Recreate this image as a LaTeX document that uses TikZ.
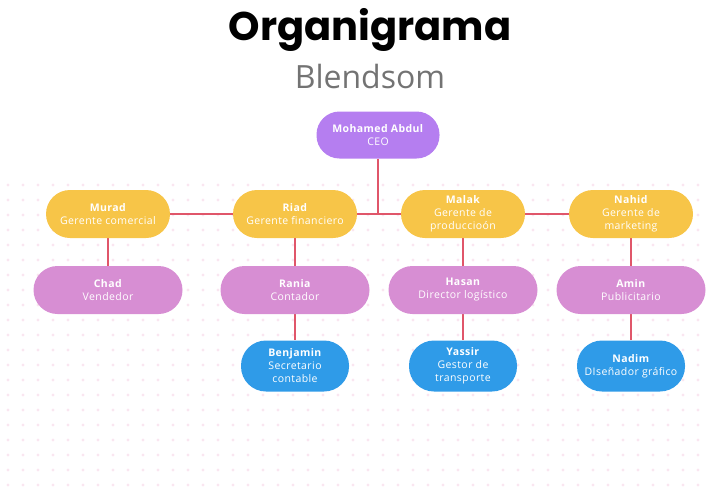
\documentclass[tikz,border=0pt]{standalone}
\usepackage{fontspec}
\usetikzlibrary{backgrounds}
\setmainfont{Open Sans}[LetterSpace=4]
\newfontfamily\titlefont{Poppins}
\newfontfamily\subfont{Open Sans}

\definecolor{bossviolet}{HTML}{B57EF0}
\definecolor{mgryellow}{HTML}{F7C548}
\definecolor{staffpink}{HTML}{D78ED3}
\definecolor{assistblue}{HTML}{2F9BE8}
\definecolor{linkred}{HTML}{E0566A}
\definecolor{dotpink}{HTML}{FAE6F0}

\pgfdeclarelayer{backdrop}
\pgfsetlayers{backdrop,background,main}

\newcommand{\who}[2]{\textbf{#1}\\#2}

\begin{document}
\begin{tikzpicture}[x=1pt,y=-1pt,
  pill/.style={text=white, align=center, font=\fontsize{10.5}{13}\selectfont,
    inner sep=2pt, minimum height=48pt, rounded corners=24pt},
  chief/.style={pill, fill=bossviolet, minimum width=123pt, minimum height=47pt, rounded corners=23pt},
  manager/.style={pill, fill=mgryellow, minimum width=124pt},
  staff/.style={pill, fill=staffpink, minimum width=149pt},
  helper/.style={pill, fill=assistblue, minimum width=108pt, minimum height=51pt, rounded corners=25pt},
  link/.style={draw=linkred, line width=1.2pt}]
\useasboundingbox (0,0) rectangle (715,499);

% faint dotted backdrop
\begin{pgfonlayer}{backdrop}
\foreach \i in {0,...,46}
  \foreach \j in {0,...,20}
    \fill[dotpink] (8+15*\i,185+15*\j) circle (1.6pt);
\end{pgfonlayer}

% title
\node (title) at (370,30) {\titlefont\bfseries\fontsize{40}{40}\selectfont Organigrama};
\node[text=black!55] (subtitle) at (370,76) {\subfont\fontsize{32}{32}\selectfont Blendsom};

% boxes
\node[chief] (ceo) at (378,135) {\who{Mohamed Abdul}{CEO}};

\node[manager] (murad) at (108,214) {\who{Murad}{Gerente comercial}};
\node[manager] (riad) at (295,214) {\who{Riad}{Gerente financiero}};
\node[manager] (malak) at (463,214) {\who{Malak}{Gerente de\\produccio\'on}};
\node[manager] (nahid) at (631,214) {\who{Nahid}{Gerente de\\marketing}};

\node[staff] (chad) at (108,290) {\who{Chad}{Vendedor}};
\node[staff] (rania) at (295,290) {\who{Rania}{Contador}};
\node[staff] (hasan) at (463,290) {\who{Hasan}{Director log\'istico}};
\node[staff] (amin) at (631,290) {\who{Amin}{Publicitario}};

\node[helper] (benjamin) at (295,366) {\who{Benjamin}{Secretario\\contable}};
\node[helper] (yassir) at (463,366) {\who{Yassir}{Gestor de\\transporte}};
\node[helper] (nadim) at (631,366) {\who{Nadim}{DIse\~nador gr\'afico}};

% connectors
\begin{scope}[on background layer]
\draw[link] (murad) -- (riad);
\draw[link] (riad) -- (malak);
\draw[link] (malak) -- (nahid);
\draw[link] (ceo) -- (ceo |- riad);
\draw[link] (murad) -- (chad);
\draw[link] (riad) -- (rania);
\draw[link] (malak) -- (hasan);
\draw[link] (nahid) -- (amin);
\draw[link] (rania) -- (benjamin);
\draw[link] (hasan) -- (yassir);
\draw[link] (amin) -- (nadim);
\end{scope}
\end{tikzpicture}
\end{document}
